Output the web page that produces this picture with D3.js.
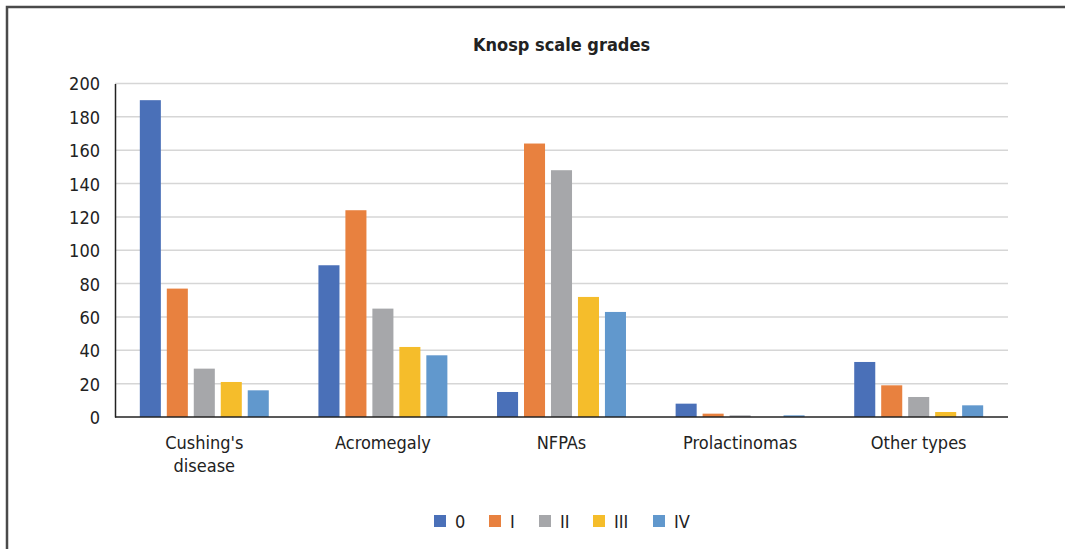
<!DOCTYPE html>
<html>
<head>
<meta charset="utf-8">
<script src="https://cdn.jsdelivr.net/npm/d3@7"></script>
<style>
  html, body { margin: 0; padding: 0; background: #fff; }
  svg text { font-family: "Liberation Sans Narrow", "DejaVu Sans Condensed", "Arial Narrow", sans-serif; fill: #222; }
</style>
</head>
<body>
<svg id="chart" width="1065" height="549"></svg>
<script>
// Knosp grade counts per adenoma type
const categories = [["Cushing's", "disease"], ["Acromegaly"], ["NFPAs"], ["Prolactinomas"], ["Other types"]];
const grades = ["0", "I", "II", "III", "IV"];
const grade0   = [190, 91, 15, 8, 33];
const gradeI   = [77, 124, 164, 2, 19];
const gradeII  = [29, 65, 148, 1, 12];
const gradeIII = [21, 42, 72, 0, 3];
const gradeIV  = [16, 37, 63, 1, 7];
const yTicks = [0, 20, 40, 60, 80, 100, 120, 140, 160, 180, 200];
const colors = ["#4a70b8", "#e8813f", "#a6a7aa", "#f5bd2b", "#6198cd"];

const series = [grade0, gradeI, gradeII, gradeIII, gradeIV];
const svg = d3.select("#chart");

// outer frame
svg.append("path")
  .attr("d", "M7,549 V7 H1065")
  .attr("fill", "none").attr("stroke", "#4a4a4a").attr("stroke-width", 2.5);

const plotLeft = 115, plotRight = 1008, plotTop = 83.5, plotBottom = 417;

const y = d3.scaleLinear().domain([0, 200]).range([plotBottom, plotTop]);
const catKeys = categories.map((c, i) => i);
const x0 = d3.scaleBand().domain(catKeys).range([plotLeft, plotRight]).padding(0);
const x1 = d3.scaleBand().domain(grades).range([0, x0.bandwidth()])
  .paddingInner(0.22).paddingOuter(0.92);

// title
svg.append("text")
  .attr("x", (plotLeft + plotRight) / 2).attr("y", 51)
  .attr("text-anchor", "middle")
  .style("font-size", "18px").style("font-weight", "bold")
  .text("Knosp scale grades");

// gridlines
svg.append("g").selectAll("line").data(yTicks.filter(t => t > 0)).join("line")
  .attr("x1", plotLeft).attr("x2", plotRight)
  .attr("y1", d => y(d)).attr("y2", d => y(d))
  .attr("stroke", "#d6d6d6").attr("stroke-width", 1.5);

// y axis
const yAxis = d3.axisLeft(y).tickValues(yTicks).tickSize(0).tickPadding(15);
const gy = svg.append("g").attr("transform", `translate(${plotLeft},0)`).call(yAxis);
gy.select(".domain").attr("stroke", "#222").attr("stroke-width", 1.5);
gy.selectAll("text").style("font-size", "18px").attr("dy", "0.36em");

// bars
const groups = svg.append("g").selectAll("g").data(catKeys).join("g")
  .attr("transform", d => `translate(${x0(d)},0)`);
groups.selectAll("rect")
  .data(ci => grades.map((g, gi) => ({ g, gi, v: series[gi][ci] })))
  .join("rect")
  .attr("x", d => x1(d.g))
  .attr("width", x1.bandwidth())
  .attr("y", d => y(d.v))
  .attr("height", d => plotBottom - y(d.v))
  .attr("fill", d => colors[d.gi]);

// x axis line
svg.append("line")
  .attr("x1", plotLeft).attr("x2", plotRight).attr("y1", plotBottom).attr("y2", plotBottom)
  .attr("stroke", "#222").attr("stroke-width", 1.5);

// category labels
const xl = svg.append("g").selectAll("text").data(catKeys).join("text")
  .attr("x", d => x0(d) + x0.bandwidth() / 2)
  .attr("y", 449)
  .attr("text-anchor", "middle")
  .style("font-size", "18px");
xl.selectAll("tspan").data(d => categories[d]).join("tspan")
  .attr("x", function() { return d3.select(this.parentNode).attr("x"); })
  .attr("dy", (d, i) => i === 0 ? 0 : 23)
  .text(d => d);

// legend
const legendX = [434, 489, 539, 593, 653];
const lg = svg.append("g").selectAll("g").data(grades).join("g")
  .attr("transform", (d, i) => `translate(${legendX[i]},515)`);
lg.append("rect").attr("width", 12).attr("height", 12).attr("fill", (d, i) => colors[i]);
lg.append("text").attr("x", 21).attr("y", 13).style("font-size", "18px").text(d => d);
</script>
</body>
</html>
